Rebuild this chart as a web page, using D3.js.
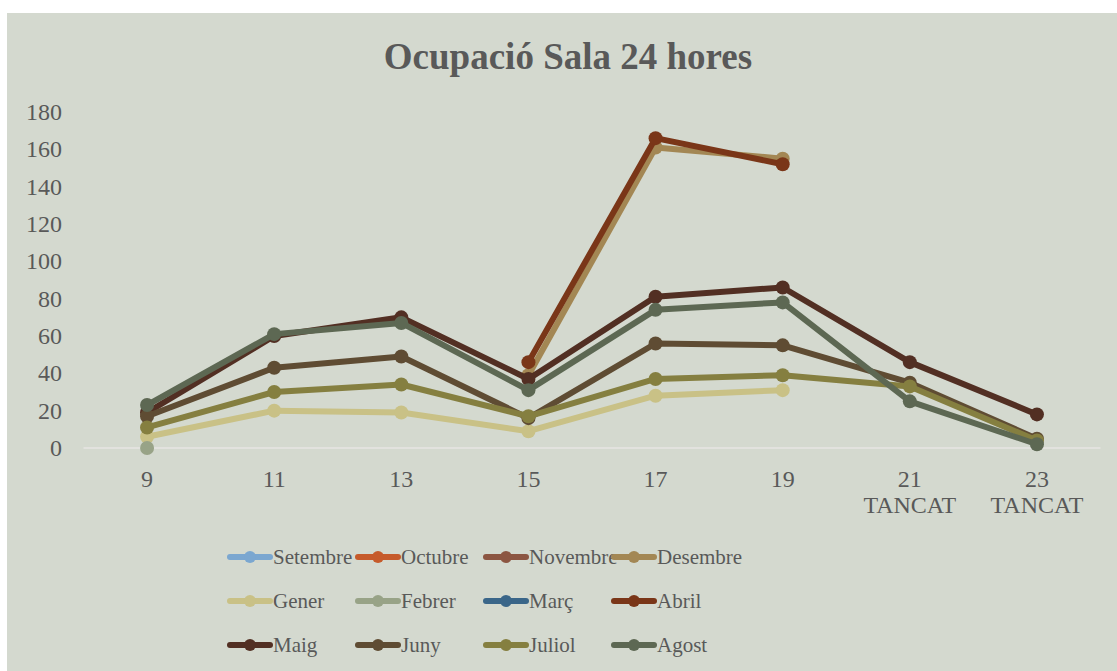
<!DOCTYPE html>
<html>
<head>
<meta charset="utf-8">
<script src="https://cdn.jsdelivr.net/npm/d3@7"></script>
<style>
  body { margin: 0; background: #fff; }
</style>
</head>
<body>
<svg width="1117" height="671"></svg>
<script>
var hours = ["9", "11", "13", "15", "17", "19", "21", "23"];
var hourNotes = ["", "", "", "", "", "", "TANCAT", "TANCAT"];
var yTicks = [0, 20, 40, 60, 80, 100, 120, 140, 160, 180];

var months = ["Setembre", "Octubre", "Novembre", "Desembre", "Gener", "Febrer",
              "Març", "Abril", "Maig", "Juny", "Juliol", "Agost"];
var colors = ["#7ba7d0", "#c65b2b", "#8c5642", "#a38754", "#c9c186", "#98a387",
              "#3a6689", "#7a3618", "#522f23", "#5f4c33", "#857f40", "#5d6853"];

var setembre = [null, null, null, null, null, null, null, null];
var octubre  = [null, null, null, null, null, null, null, null];
var novembre = [null, null, null, null, null, null, null, null];
var desembre = [null, null, null, 39, 161, 155, null, null];
var gener    = [6, 20, 19, 9, 28, 31, null, null];
var febrer   = [0, null, null, null, null, null, null, null];
var marc     = [null, null, null, null, null, null, null, null];
var abril    = [null, null, null, 46, 166, 152, null, null];
var maig     = [19, 60, 70, 37, 81, 86, 46, 18];
var juny     = [17, 43, 49, 16, 56, 55, 35, 5];
var juliol   = [11, 30, 34, 17, 37, 39, 33, 4];
var agost    = [23, 61, 67, 31, 74, 78, 25, 2];

var series = [setembre, octubre, novembre, desembre, gener, febrer,
              marc, abril, maig, juny, juliol, agost];

var font = "'Liberation Serif', 'Times New Roman', serif";

var svg = d3.select("svg")
    .attr("font-family", font);

// chart area
svg.append("rect")
    .attr("x", 7).attr("y", 13)
    .attr("width", 1110).attr("height", 658)
    .attr("fill", "#d4d9cf");

svg.append("text")
    .attr("x", 568).attr("y", 69)
    .attr("text-anchor", "middle")
    .attr("font-size", 37)
    .attr("font-weight", "bold")
    .attr("fill", "#595959")
    .text("Ocupació Sala 24 hores");

var x = d3.scaleBand().domain(hours).range([83.5, 1100.5]);
var y = d3.scaleLinear().domain([0, 180]).range([448, 112]);
var cx = function(h) { return x(h) + x.bandwidth() / 2; };

// y axis labels
svg.append("g").selectAll("text")
  .data(yTicks)
  .enter().append("text")
    .attr("x", 62)
    .attr("y", function(d) { return y(d); })
    .attr("dy", "0.33em")
    .attr("text-anchor", "end")
    .attr("font-size", 24)
    .attr("fill", "#595959")
    .text(function(d) { return d; });

// zero line
svg.append("line")
    .attr("x1", x.range()[0]).attr("x2", x.range()[1])
    .attr("y1", y(0)).attr("y2", y(0))
    .attr("stroke", "#e2e2de")
    .attr("stroke-width", 2);

// x axis labels
var xl = svg.append("g").selectAll("text")
  .data(hours)
  .enter().append("text")
    .attr("x", function(d) { return cx(d); })
    .attr("y", 487)
    .attr("text-anchor", "middle")
    .attr("font-size", 24)
    .attr("fill", "#595959");
xl.append("tspan")
    .attr("x", function(d) { return cx(d); })
    .text(function(d) { return d; });
xl.append("tspan")
    .attr("x", function(d) { return cx(d); })
    .attr("dy", 26)
    .text(function(d, i) { return hourNotes[i]; });

var line = d3.line()
    .defined(function(d) { return d != null; })
    .x(function(d, i) { return cx(hours[i]); })
    .y(function(d) { return y(d); });

series.forEach(function(vals, s) {
  var g = svg.append("g");
  g.append("path")
      .attr("d", line(vals))
      .attr("fill", "none")
      .attr("stroke", colors[s])
      .attr("stroke-width", 6)
      .attr("stroke-linejoin", "round");
  g.selectAll("circle")
    .data(vals.map(function(v, i) { return {v: v, h: hours[i]}; })
              .filter(function(d) { return d.v != null; }))
    .enter().append("circle")
      .attr("cx", function(d) { return cx(d.h); })
      .attr("cy", function(d) { return y(d.v); })
      .attr("r", 7)
      .attr("fill", colors[s]);
});

// legend
var lg = svg.append("g").selectAll("g")
  .data(months)
  .enter().append("g")
    .attr("transform", function(d, i) {
      return "translate(" + (230 + (i % 4) * 128) + "," + (557 + Math.floor(i / 4) * 44) + ")";
    });
lg.append("line")
    .attr("x1", 0).attr("x2", 40)
    .attr("stroke", function(d, i) { return colors[i]; })
    .attr("stroke-width", 6)
    .attr("stroke-linecap", "round");
lg.append("circle")
    .attr("cx", 20).attr("r", 6)
    .attr("fill", function(d, i) { return colors[i]; });
lg.append("text")
    .attr("x", 43)
    .attr("dy", "0.33em")
    .attr("font-size", 21)
    .attr("fill", "#595959")
    .text(function(d) { return d; });
</script>
</body>
</html>
